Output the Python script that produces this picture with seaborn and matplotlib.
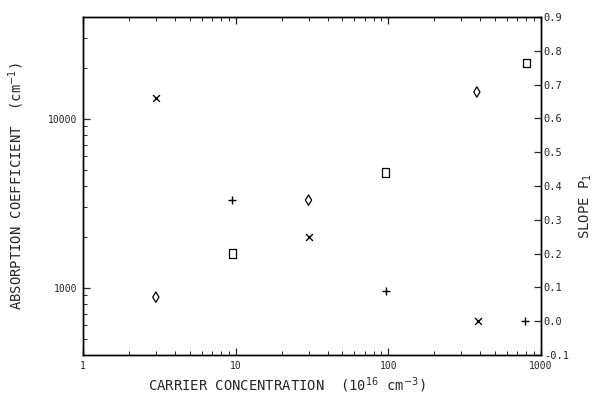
import numpy as np
import pandas as pd
import matplotlib
matplotlib.use("Agg")
import matplotlib.pyplot as plt
import seaborn as sns
from matplotlib.ticker import FixedLocator, LogLocator, NullFormatter, MultipleLocator, FormatStrFormatter

# Absorption coefficient (left axis, cm^-1)
diamond_x = [3, 30, 380]
diamond_y = [880, 3300, 14400]
square_x = [9.5, 96, 800]
square_y = [1600, 4800, 21400]

# Slope P1 (right axis)
cross_x = [3, 30, 385]
cross_y = [0.66, 0.25, 0.0]
plus_x = [9.5, 96, 790]
plus_y = [0.36, 0.09, 0.0]

left_ticks = [1000, 10000]
left_labels = ["1000", "10000"]
x_ticks = [1, 10, 100, 1000]
x_labels = ["1", "10", "100", "1000"]

sns.set_style("ticks")
plt.rcParams['font.family'] = ['DejaVu Sans Mono', 'DejaVu Sans']
plt.rcParams['mathtext.fontset'] = 'dejavusans'

fig = plt.figure(figsize=(6.04, 4.03), dpi=100)
ax = fig.add_axes([83/604, 1-355/403, (541-83)/604, (355-17)/403])
ax2 = ax.twinx()

abs_df = pd.DataFrame({
    "x": diamond_x + square_x,
    "y": diamond_y + square_y,
    "m": ["d"] * len(diamond_x) + ["s"] * len(square_x),
})
slope_df = pd.DataFrame({
    "x": cross_x + plus_x,
    "y": cross_y + plus_y,
    "m": ["x"] * len(cross_x) + ["p"] * len(plus_x),
})

ax.set_xscale("log")
ax.set_yscale("log")

sns.scatterplot(data=abs_df[abs_df.m == "d"], x="x", y="y", marker="d", s=28,
                facecolors="none", edgecolors="black", linewidth=0.9, ax=ax)
sns.scatterplot(data=abs_df[abs_df.m == "s"], x="x", y="y",
                marker=[(-0.8, -1), (0.8, -1), (0.8, 1), (-0.8, 1), (-0.8, -1)], s=40,
                facecolors="none", edgecolors="black", linewidth=0.9, ax=ax)
sns.scatterplot(data=slope_df[slope_df.m == "x"], x="x", y="y", marker="x", s=24,
                color="black", linewidth=1.0, ax=ax2)
sns.scatterplot(data=slope_df[slope_df.m == "p"], x="x", y="y", marker="+", s=32,
                color="black", linewidth=1.0, ax=ax2)

ax.set_xlim(1, 1000)
ax.set_ylim(400, 40000)
ax2.set_ylim(-0.1, 0.9)

ax.xaxis.set_major_locator(FixedLocator(x_ticks))
ax.set_xticklabels(x_labels)
ax.xaxis.set_minor_locator(LogLocator(base=10, subs=np.arange(2, 10)))
ax.xaxis.set_minor_formatter(NullFormatter())
ax.yaxis.set_major_locator(FixedLocator(left_ticks))
ax.set_yticklabels(left_labels)
ax.yaxis.set_minor_locator(LogLocator(base=10, subs=np.arange(2, 10)))
ax.yaxis.set_minor_formatter(NullFormatter())

ax2.yaxis.set_major_locator(MultipleLocator(0.1))
ax2.yaxis.set_major_formatter(FormatStrFormatter("%.1f"))

for a in (ax, ax2):
    for s in a.spines.values():
        s.set_visible(True)
        s.set_linewidth(1.0)
        s.set_color("black")

ax.tick_params(axis="both", which="major", direction="in", length=5, width=0.9,
               labelsize=7, top=True, pad=4)
ax.tick_params(axis="both", which="minor", direction="in", length=3, width=0.7, top=True)
ax.tick_params(axis="y", which="both", right=False)
ax2.tick_params(axis="y", which="major", direction="in", length=5, width=0.9,
                labelsize=7.5, pad=2)

ax.set_xlabel(r"CARRIER CONCENTRATION  (10$^{16}$ cm$^{-3}$)", fontsize=10)
ax.xaxis.set_label_coords(0.445, -0.06)
ax.set_ylabel(r"ABSORPTION COEFFICIENT  (cm$^{-1}$)", fontsize=10)
ax.yaxis.set_label_coords(-0.125, 0.5)
ax2.set_ylabel(r"SLOPE P$_1$", fontsize=10)
ax2.yaxis.set_label_coords(1.08, 0.44)

fig.savefig("out.png", dpi=100)
